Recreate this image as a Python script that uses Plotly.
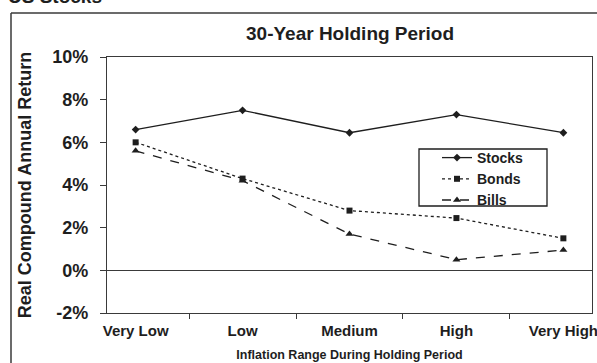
import plotly.graph_objects as go

# Inflation regimes over 30-year holding periods
categories = ["Very Low", "Low", "Medium", "High", "Very High"]

# Real compound annual returns (%)
stocks = [6.6, 7.5, 6.45, 7.3, 6.45]
bonds = [6.0, 4.3, 2.8, 2.45, 1.5]
bills = [5.6, 4.2, 1.7, 0.5, 0.95]

y_ticks = [-2, 0, 2, 4, 6, 8, 10]
y_tick_labels = [f"{v}%" for v in y_ticks]

FONT = "Arial, 'Liberation Sans', sans-serif"
INK = "#1e1e1e"
FRAME = "#3a3a3a"

W, H = 597, 363
ML, MR, MT, MB = 107, 5, 57, 50

fig = go.Figure()

series = [
    ("Stocks", stocks, "solid", "diamond", 6),
    ("Bonds", bonds, "dot", "square", 6),
    ("Bills", bills, "dash", "triangle-up", 7),
]
for name, vals, dash, symbol, msize in series:
    fig.add_trace(go.Scatter(
        x=categories, y=vals, name=name, mode="lines+markers",
        line=dict(color=INK, width=1.3, dash=dash),
        marker=dict(symbol=symbol, size=msize, color=INK),
    ))

plot_w = W - ML - MR
plot_h = H - MT - MB


def px_x(p):
    return (p - ML) / plot_w


def px_y(p):
    return (H - MB - p) / plot_h


fig.update_layout(
    width=W, height=H,
    margin=dict(l=ML, r=MR, t=MT, b=MB, autoexpand=False),
    paper_bgcolor="white", plot_bgcolor="white",
    font=dict(family=FONT, color=INK),
    showlegend=True,
    legend=dict(
        x=px_x(437), y=px_y(142), xanchor="left", yanchor="top",
        bgcolor="rgba(0,0,0,0)", borderwidth=0,
        font=dict(family=FONT, size=14, color=INK, weight="bold"),
        itemwidth=30, tracegroupgap=0,
    ),
    xaxis=dict(
        type="category", categoryorder="array", categoryarray=categories,
        tickson="boundaries", ticks="outside", ticklen=5, tickwidth=1.3,
        tickcolor=FRAME, showline=True, linecolor=FRAME, linewidth=1.3,
        mirror=True, showgrid=False, zeroline=False,
        ticklabelstandoff=4,
        tickfont=dict(family=FONT, size=15, color=INK, weight="bold"),
        title=dict(text="Inflation Range During Holding Period",
                   font=dict(family=FONT, size=12.5, color=INK, weight="bold"),
                   standoff=12),
        automargin=False,
    ),
    yaxis=dict(
        range=[-2, 10], tickvals=y_ticks, ticktext=y_tick_labels,
        ticks="outside", ticklen=6, tickwidth=1.3, tickcolor=FRAME,
        showline=True, linecolor=FRAME, linewidth=1.3, mirror=True,
        showgrid=False, zeroline=True, zerolinecolor=FRAME, zerolinewidth=1.3,
        ticklabelstandoff=8,
        tickfont=dict(family=FONT, size=18, color=INK, weight="bold"),
        title=dict(text="Real Compound Annual Return",
                   font=dict(family=FONT, size=18, color=INK, weight="bold"),
                   standoff=15),
        automargin=False,
    ),
    shapes=[
        # outer frame (left and top edges)
        dict(type="line", xref="paper", yref="paper",
             x0=px_x(11), x1=px_x(11), y0=px_y(13), y1=px_y(H + 5),
             line=dict(color=FRAME, width=1.5)),
        dict(type="line", xref="paper", yref="paper",
             x0=px_x(11), x1=px_x(W + 5), y0=px_y(13), y1=px_y(13),
             line=dict(color=FRAME, width=1.5)),
        # legend box
        dict(type="rect", xref="paper", yref="paper",
             x0=px_x(419), x1=px_x(547), y0=px_y(206), y1=px_y(149),
             line=dict(color=INK, width=1.3), fillcolor="rgba(0,0,0,0)"),
    ],
    annotations=[
        dict(text="30-Year Holding Period", xref="paper", yref="paper",
             x=px_x(350), y=px_y(33), xanchor="center", yanchor="middle",
             showarrow=False,
             font=dict(family=FONT, size=19, color=INK, weight="bold")),
        dict(text="US Stocks", xref="paper", yref="paper",
             x=px_x(6), y=px_y(9), xanchor="left", yanchor="bottom",
             showarrow=False,
             font=dict(family=FONT, size=19, color=INK, weight="bold")),
    ],
)

fig.write_html("out.html")
